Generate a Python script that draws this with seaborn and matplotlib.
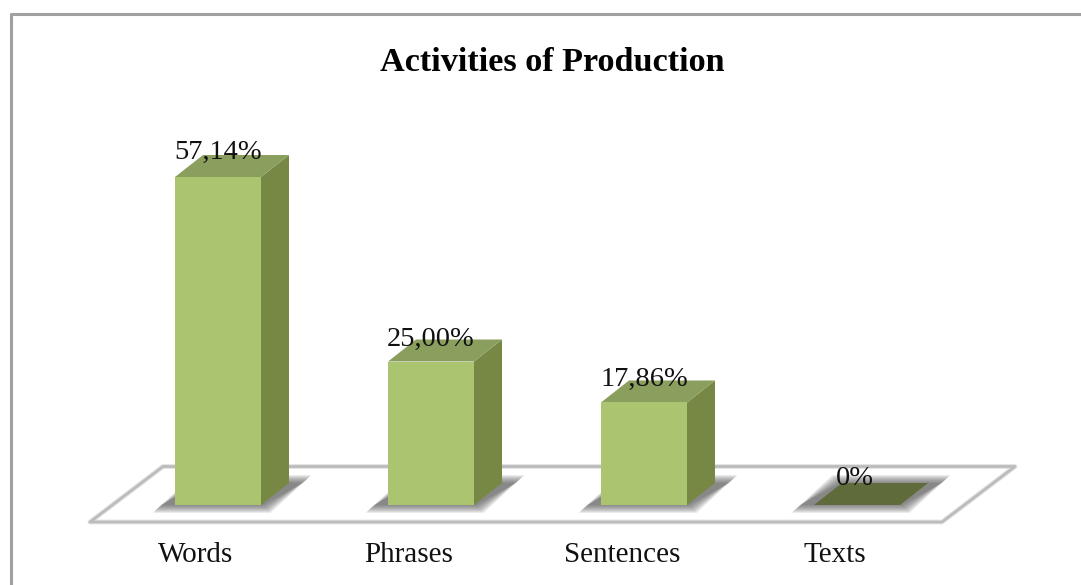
import matplotlib
matplotlib.use("Agg")
import matplotlib.pyplot as plt
import pandas as pd
import seaborn as sns
from matplotlib.lines import Line2D
from matplotlib.patches import Polygon
from matplotlib.transforms import ScaledTranslation

categories = ["Words", "Phrases", "Sentences", "Texts"]
values = [57.14, 25.00, 17.86, 0]
value_labels = ["57,14%", "25,00%", "17,86%", "0%"]
label_rise = [18, 16, 17, 20]

W, H = 1081, 585
DPI = 100
STEP_PX = 213
UNIT_PX = 5.74  # pixels per percent
DEPTH_X = 28 / STEP_PX
DEPTH_Y = 22 / UNIT_PX

FRONT = "#abc46f"
SIDE = "#778845"
TOP = "#8a9e5e"
TOP_EMPTY = "#5f6b3a"

sns.set_style("white")
plt.rcParams["font.family"] = ["Liberation Serif", "DejaVu Serif"]

fig = plt.figure(figsize=(W / DPI, H / DPI), dpi=DPI)
ax = fig.add_axes([111.5 / W, 80 / H, 852 / W, 400 / H])
ax.patch.set_alpha(0)


def px(x, y):
    return (x / W, 1 - y / H)


# outer frame, cut off at right and bottom like in the source
fig.add_artist(Line2D([px(11, 0)[0], px(11, 0)[0], 1], [0, px(0, 14)[1], px(0, 14)[1]],
                      transform=fig.transFigure, color="#a0a0a0", lw=2.2, zorder=-3))

# floor of the 3d chart
floor = [px(90, 522), px(942, 522), px(1015, 466.5), px(163, 466.5)]
fig.add_artist(Polygon(floor, closed=True, transform=fig.transFigure, facecolor="white",
                       edgecolor="#e4e4e4", lw=3.5, joinstyle="round", zorder=-2))
fig.add_artist(Polygon(floor, closed=True, transform=fig.transFigure, facecolor="none",
                       edgecolor="#bcbcbc", lw=2, joinstyle="round", zorder=-2))

df = pd.DataFrame({"category": categories, "value": values})
sns.barplot(data=df, x="category", y="value", color=FRONT, saturation=1, width=86 / STEP_PX,
            linewidth=0, ax=ax, zorder=5)
ax.set_xlim(-0.5, 3.5)
ax.set_ylim(0, 400 / UNIT_PX)
ax.set_xlabel("")
ax.set_ylabel("")
ax.set_yticks([])
sns.despine(ax=ax, left=True, bottom=True)

ax.tick_params(axis="x", length=0, pad=27, labelsize=21)
shift = ScaledTranslation(-22 / DPI, 0, fig.dpi_scale_trans)
for lab in ax.get_xticklabels():
    lab.set_transform(lab.get_transform() + shift)
    lab.set_color("#111111")

for bar, text, rise in zip(ax.patches, value_labels, label_rise):
    x0, w, h = bar.get_x(), bar.get_width(), bar.get_height()
    x1 = x0 + w

    # soft shadow on the floor, stacked thin layers getting smaller
    for pad in [8, 7, 6, 5, 4, 3, 2, 1, 0]:
        pad_x, pad_y = (pad + 8) / STEP_PX, pad / UNIT_PX
        foot = [(x0 - pad_x - 0.03, -pad_y), (x1 + pad_x - 0.03, -pad_y),
                (x1 + DEPTH_X + pad_x + 0.03, DEPTH_Y + pad_y), (x0 + DEPTH_X - pad_x + 0.03, DEPTH_Y + pad_y)]
        ax.add_patch(Polygon(foot, closed=True, facecolor="#444444", edgecolor="none",
                             alpha=0.1, zorder=2, clip_on=False))

    ax.add_patch(Polygon([(x1, 0), (x1 + DEPTH_X, DEPTH_Y), (x1 + DEPTH_X, h + DEPTH_Y), (x1, h)],
                         closed=True, facecolor=SIDE, edgecolor="none", zorder=4))
    ax.add_patch(Polygon([(x0, h), (x1, h), (x1 + DEPTH_X, h + DEPTH_Y), (x0 + DEPTH_X, h + DEPTH_Y)],
                         closed=True, facecolor=TOP if h > 0 else TOP_EMPTY, edgecolor="none", zorder=4))

    ax.annotate(text, (x0 + w / 2, h), xytext=(-2 if h == 0 else 0, rise), textcoords="offset pixels",
                ha="center", va="baseline", fontsize=20.5, color="#111111", zorder=8)

fig.text(552 / W, 1 - 71 / H, "Activities of Production", ha="center", va="baseline",
         fontsize=24.6, fontweight="bold", color="black")

fig.savefig("out.png", dpi=DPI)
plt.close(fig)
